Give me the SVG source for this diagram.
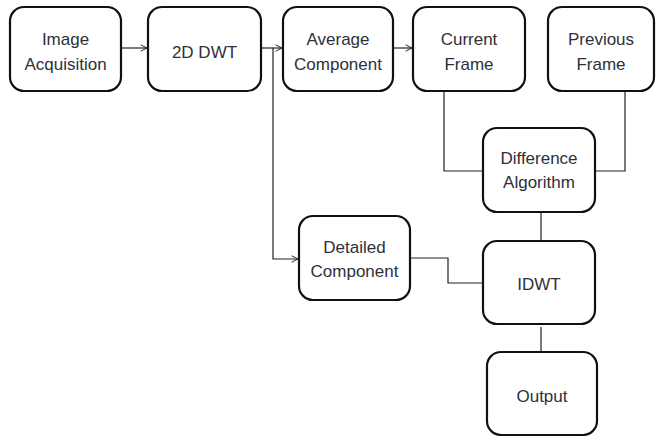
<svg xmlns="http://www.w3.org/2000/svg" width="657" height="436" viewBox="0 0 657 436">
  <defs>
    <marker id="arrow" viewBox="0 0 10 10" refX="9" refY="5" markerWidth="8" markerHeight="8" markerUnits="userSpaceOnUse" orient="auto">
      <path d="M1,1 L9,5 L1,9" fill="none" stroke="#222" stroke-width="1.2"/>
    </marker>
  </defs>
  <style>
    .box { fill: #fff; stroke: #111; stroke-width: 2.2; }
    .lbl { font-family: "Liberation Sans", Arial, sans-serif; font-size: 17px; fill: #2f2f3a; text-anchor: middle; }
    .wire { fill: none; stroke: #222; stroke-width: 1.2; }
  </style>
  <rect width="657" height="436" fill="#fff"/>

  <g id="connectors">
    <line class="wire" x1="121" y1="48" x2="147" y2="48" marker-end="url(#arrow)"/>
    <line class="wire" x1="254" y1="48" x2="282" y2="48" marker-end="url(#arrow)"/>
    <polyline class="wire" points="273,48 273,259 298,259" marker-end="url(#arrow)"/>
    <line class="wire" x1="387" y1="48" x2="412" y2="48" marker-end="url(#arrow)"/>
    <polyline class="wire" points="444,91 444,171 483,171"/>
    <polyline class="wire" points="625,91 625,171 584,171"/>
    <line class="wire" x1="541" y1="213" x2="541" y2="241"/>
    <polyline class="wire" points="410,258 448,258 448,283 483,283"/>
    <line class="wire" x1="541" y1="327" x2="541" y2="352"/>
  </g>

  <g id="image-acquisition">
    <rect class="box" x="10" y="7" width="111" height="84" rx="14"/>
    <text class="lbl" x="65.5" y="45">Image</text>
    <text class="lbl" x="65.5" y="70">Acquisition</text>
  </g>
  <g id="dwt-2d">
    <rect class="box" x="148" y="7" width="113" height="84" rx="14"/>
    <text class="lbl" x="204.5" y="58">2D DWT</text>
  </g>
  <g id="average-component">
    <rect class="box" x="283" y="7" width="110" height="84" rx="14"/>
    <text class="lbl" x="338" y="45">Average</text>
    <text class="lbl" x="338" y="70">Component</text>
  </g>
  <g id="current-frame">
    <rect class="box" x="413" y="7" width="112" height="84" rx="14"/>
    <text class="lbl" x="469" y="45">Current</text>
    <text class="lbl" x="469" y="70">Frame</text>
  </g>
  <g id="previous-frame">
    <rect class="box" x="548" y="7" width="106" height="84" rx="14"/>
    <text class="lbl" x="601" y="45">Previous</text>
    <text class="lbl" x="601" y="70">Frame</text>
  </g>
  <g id="difference-algorithm">
    <rect class="box" x="483" y="128" width="112" height="84" rx="14"/>
    <text class="lbl" x="539" y="164">Difference</text>
    <text class="lbl" x="539" y="188">Algorithm</text>
  </g>
  <g id="detailed-component">
    <rect class="box" x="299" y="216" width="111" height="84" rx="14"/>
    <text class="lbl" x="354.5" y="253">Detailed</text>
    <text class="lbl" x="354.5" y="277">Component</text>
  </g>
  <g id="idwt">
    <rect class="box" x="483" y="241" width="112" height="83" rx="14"/>
    <text class="lbl" x="539" y="290">IDWT</text>
  </g>
  <g id="output">
    <rect class="box" x="487" y="352" width="110" height="83" rx="14"/>
    <text class="lbl" x="542" y="402">Output</text>
  </g>
</svg>
